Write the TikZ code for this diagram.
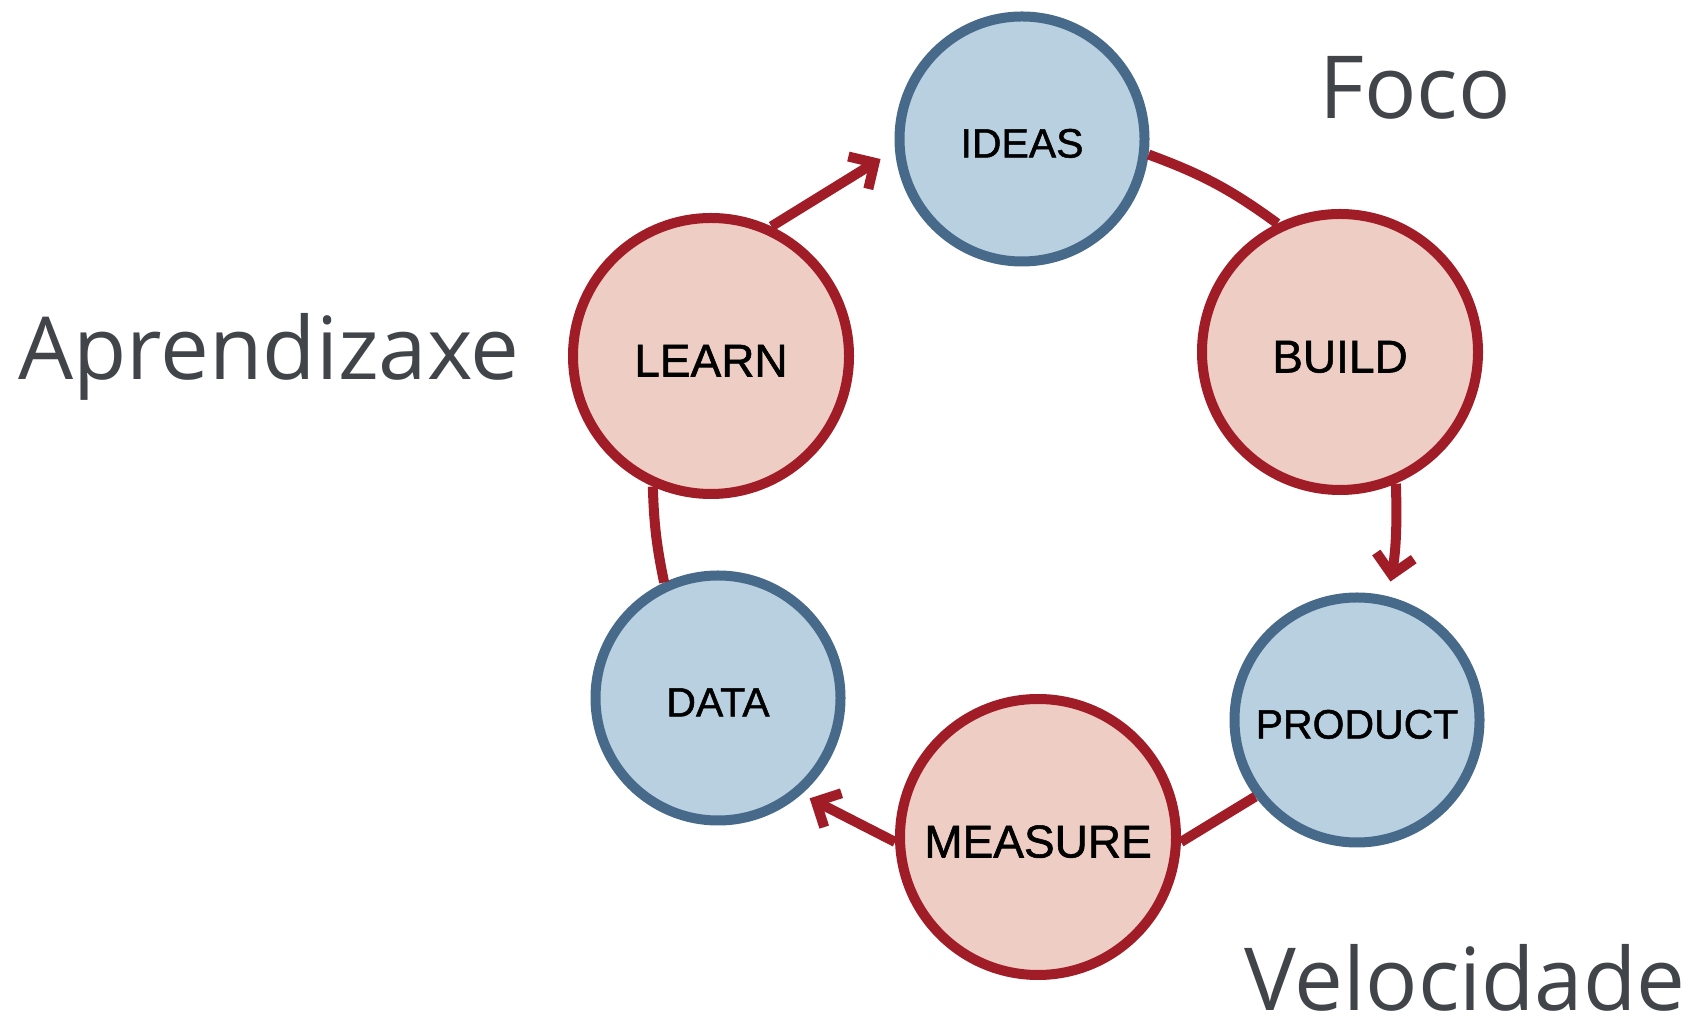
\documentclass[tikz,border=0pt]{standalone}
\usepackage{fontspec}
\newfontfamily\captionfont{Open Sans}
\newfontfamily\stepfont[FakeBold=1.2]{Liberation Sans}
\usetikzlibrary{arrows.meta}
\definecolor{loopred}{RGB}{160,28,38}
\definecolor{redfill}{RGB}{237,205,196}
\definecolor{loopblue}{RGB}{72,106,138}
\definecolor{bluefill}{RGB}{184,208,224}
\definecolor{captiongray}{RGB}{65,69,74}

\begin{document}
\begin{tikzpicture}[x=1pt,y=1pt,
  phase/.style={circle, line width=10pt, draw=loopred, fill=redfill,
    minimum size=276pt, inner sep=0pt,
    font=\stepfont\fontsize{46}{46}\selectfont, text height=41pt, text depth=0pt},
  artifact/.style={circle, line width=10pt, draw=loopblue, fill=bluefill,
    minimum size=245pt, inner sep=0pt,
    font=\stepfont\fontsize{41}{41}\selectfont, text height=37pt, text depth=0pt},
  link/.style={draw=loopred, line width=10pt},
  flow/.style={link, -{Straight Barb[length=19pt,width=38pt]}},
  caption/.style={font=\captionfont\fontsize{87}{87}\selectfont,
    text=captiongray, anchor=base, inner sep=0pt}]

  % canvas
  \path[fill=white, use as bounding box] (0,0) rectangle (1692,1025);

  % build-measure-learn loop
  \node[artifact] (ideas)   at (1022,886) {IDEAS};
  \node[phase]    (build)   at (1340,673) {BUILD};
  \node[artifact] (product) at (1357,305) {PRODUCT};
  \node[phase]    (measure) at (1038,188) {MEASURE};
  \node[artifact] (data)    at (718,327)  {DATA};
  \node[phase]    (learn)   at (711,669)  {LEARN};

  % connectors between the stages
  \draw[flow, shorten >=17pt] (learn.65) -- (ideas.185);
  \draw[link] (ideas.-7) to[bend left=8] (build.116);
  \draw[flow, shorten >=15pt] (build.-67) to[bend left=6] (product.76);
  \draw[link] (product.217) -- (measure.-2);
  \draw[flow, shorten >=9pt] (measure.182) -- (data.-49);
  \draw[link] (data.115) to[bend left=5] (learn.246);

  % side captions
  \node[caption] (foco)   at (1415,906) {Foco};
  \node[caption] (aprend) at (269,645)  {Aprendizaxe};
  \node[caption] (veloc)  at (1465,14)  {Velocidade};
\end{tikzpicture}
\end{document}
